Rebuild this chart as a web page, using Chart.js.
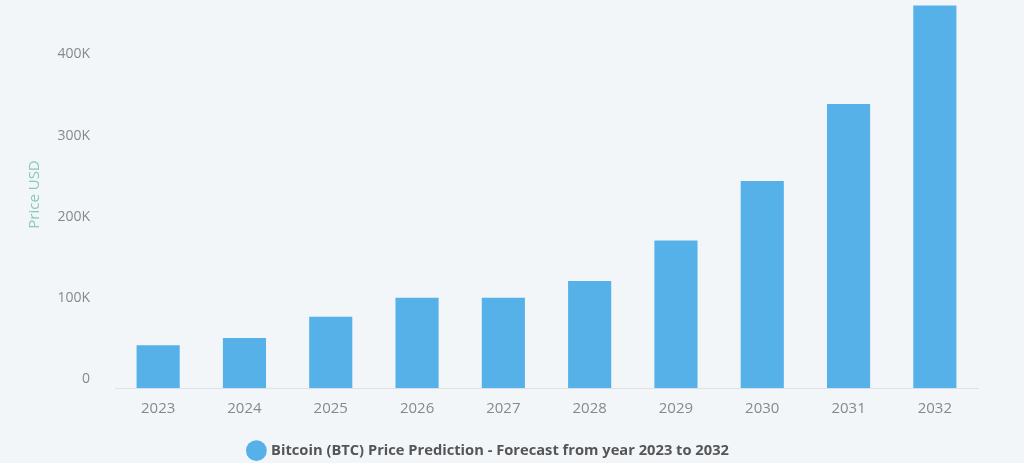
<!DOCTYPE html>
<html>
<head>
<meta charset="utf-8">
<script src="https://cdn.jsdelivr.net/npm/chart.js@4/dist/chart.umd.min.js"></script>
<style>
  html, body { margin: 0; padding: 0; background: #f3f6f9; }
  #wrap { width: 1024px; height: 463px; }
</style>
</head>
<body>
<div id="wrap"><canvas id="myChart"></canvas></div>
<script>
// data
var years = ["2023","2024","2025","2026","2027","2028","2029","2030","2031","2032"];
var prices = [53000, 62000, 88000, 111500, 111500, 132000, 182000, 255000, 350000, 471000];
var tickValues = [0, 100000, 200000, 300000, 400000];

var ctx = document.getElementById('myChart').getContext('2d');

var myBarChart = new Chart(ctx, {
  type: "bar",
  data: {
    labels: years,
    datasets: [{
      label: "Bitcoin (BTC) Price Prediction - Forecast from year 2023 to 2032",
      data: prices,
      backgroundColor: "#56b1e8",
      barPercentage: 0.5,
      categoryPercentage: 1
    }]
  },
  options: {
    responsive: true,
    maintainAspectRatio: false,
    animation: false,
    layout: { padding: { left: 0, right: 46, top: 0, bottom: -5 } },
    plugins: {
      tooltip: { enabled: false },
      legend: {
        position: "bottom",
        labels: {
          usePointStyle: true,
          pointStyle: "circle",
          boxWidth: 15,
          boxHeight: 15,
          padding: 5,
          color: "#555",
          font: { family: "Open Sans", size: 14.7, weight: "bold" }
        }
      }
    },
    scales: {
      x: {
        grid: { display: false, drawTicks: false },
        border: { display: true, color: "#dfe3e8" },
        afterFit: function(scale) { scale.height = 50; },
        ticks: { color: "#888", font: { family: "Open Sans", size: 15 }, padding: 11 }
      },
      y: {
        min: 0,
        max: 477000,
        // tick gap done with an invisible tick length so it doesn't pad the top
        grid: { display: false, drawTicks: true, tickLength: 25 },
        border: { display: false },
        afterBuildTicks: function(scale) {
          scale.ticks = tickValues.map(function(v){ return { value: v }; });
        },
        afterFit: function(scale) { scale.width = 115; },
        ticks: {
          color: "#888",
          font: { family: "Open Sans", size: 14, lineHeight: 0.1 },
          padding: 0,
          labelOffset: -9,
          callback: function(v) { return v === 0 ? "0" : (v / 1000) + "K"; }
        },
        title: {
          display: true,
          text: "Price USD",
          color: "#86c9be",
          font: { family: "Open Sans", size: 15 },
          padding: { top: 26, bottom: 0 }
        }
      }
    }
  }
});
</script>
</body>
</html>
